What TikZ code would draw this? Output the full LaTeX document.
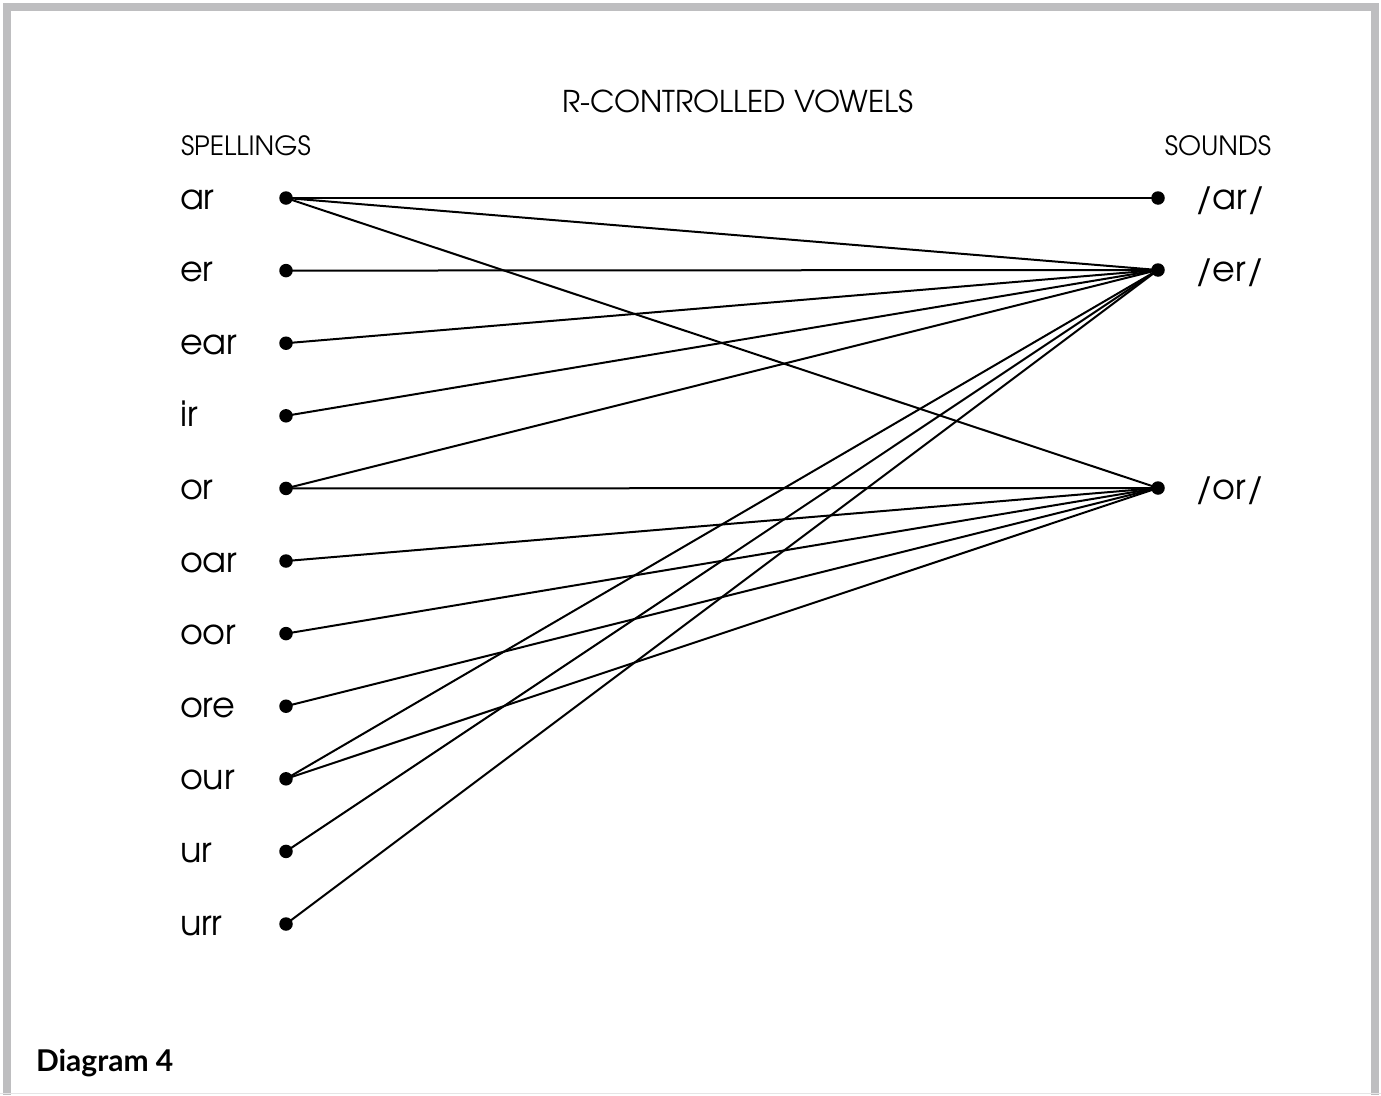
\documentclass[tikz,border=0pt]{standalone}
\usepackage{fontspec}
\setmainfont{TeX Gyre Adventor}
\newfontfamily\capfont{Lato}
\usetikzlibrary{positioning}
\definecolor{framegray}{RGB}{190,190,192}

\begin{document}
\begin{tikzpicture}[x=1pt,y=-1pt,line width=2pt,
    dot/.style={circle,fill,inner sep=0pt,minimum size=13.5pt},
    lbl/.style={font=\fontsize{35}{35}\selectfont,anchor=base west,inner sep=0pt},
    head/.style={font=\fontsize{26.5}{26.5}\selectfont,inner sep=0pt}]
  \useasboundingbox (0,0) rectangle (1381,1095);
  % frame
  \fill[framegray] (3,3) rectangle (1379,11);
  \fill[framegray] (3,3) rectangle (11,1095);
  \fill[framegray] (1371,3) rectangle (1379,1095);
  \draw[framegray!40,line width=1pt] (0,1093.5) -- (1381,1093.5);
  % headings
  \node[head,font=\fontsize{30}{30}\selectfont,anchor=base] (title) at (738,112) {R-CONTROLLED VOWELS};
  \node[head,anchor=base west] (spell) at (180,155) {SPELLINGS};
  \node[head,anchor=base east] (sound) at (1272,155) {SOUNDS};
  % spellings
  \foreach \txt [count=\i] in {ar,er,ear,ir,or,oar,oor,ore,our,ur,urr}{
    \node[dot] (d\i) at (286,125.4+\i*72.6) {};
    \node[lbl] (sp\i) at (179,136.4+\i*72.6) {\txt};
  }
  % sounds
  \foreach \txt/\y in {ar/198,er/270,or/488}{
    \node[dot] (s\txt) at (1158,\y) {};
    \node[lbl] (l\txt) at (1194,\y+11) {/\txt/};
  }
  % links
  \foreach \a/\b in {1/ar,1/er,1/or,2/er,3/er,4/er,5/er,5/or,6/or,7/or,8/or,9/er,9/or,10/er,11/er}
    \draw (d\a.center) -- (s\b.center);
  \node[font=\capfont\bfseries\fontsize{30}{30}\selectfont,anchor=base west,inner sep=0pt] (cap) at (35,1071) {Diagram 4};
\end{tikzpicture}
\end{document}
